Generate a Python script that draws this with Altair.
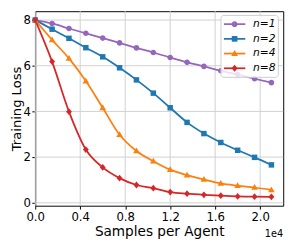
import altair as alt
import pandas as pd

samples = [0, 1500, 3000, 4500, 6000, 7500, 9000, 10500, 12000, 13500, 15000, 16500, 18000, 19500, 21000]
loss_n1 = [8.0, 7.85, 7.63, 7.42, 7.21, 7.0, 6.78, 6.58, 6.36, 6.15, 5.97, 5.78, 5.61, 5.43, 5.26]
loss_n2 = [8.0, 7.60, 7.20, 6.79, 6.39, 5.91, 5.38, 4.80, 4.16, 3.52, 3.03, 2.64, 2.30, 1.99, 1.66]
loss_n4 = [8.0, 7.13, 6.32, 5.33, 4.16, 2.98, 2.27, 1.82, 1.45, 1.21, 1.02, 0.85, 0.75, 0.67, 0.57]
loss_n8 = [8.0, 6.18, 3.99, 2.33, 1.55, 1.08, 0.78, 0.64, 0.47, 0.40, 0.35, 0.31, 0.28, 0.27, 0.26]
series_names = ["n=1", "n=2", "n=4", "n=8"]
colors = ["#9467bd", "#1f77b4", "#ff7f0e", "#d62728"]
x_ticks = [0, 4000, 8000, 12000, 16000, 20000]
y_ticks = [0, 2, 4, 6, 8]

shapes = [
    "M0.6,0C0.6,0.33 0.33,0.6 0,0.6C-0.33,0.6 -0.6,0.33 -0.6,0C-0.6,-0.33 -0.33,-0.6 0,-0.6C0.33,-0.6 0.6,-0.33 0.6,0Z",
    "M-0.58,-0.58L0.58,-0.58L0.58,0.58L-0.58,0.58Z",
    "M0,-0.72L0.7,0.5L-0.7,0.5Z",
    "M0,-0.72L0.62,0L0,0.72L-0.62,0Z",
]

rows = []
for name, vals in zip(series_names, [loss_n1, loss_n2, loss_n4, loss_n8]):
    for xv, yv in zip(samples, vals):
        rows.append({"series": name, "samples": xv, "loss": yv})
df = pd.DataFrame(rows)
legend_df = pd.DataFrame({"series": series_names})

xscale = alt.Scale(domain=[0, 22050], nice=False, zero=False)
yscale = alt.Scale(domain=[-0.127, 8.387], nice=False, zero=False)
xaxis = alt.Axis(values=x_ticks, labelExpr="format(datum.value/10000, '.1f')",
                 title="Samples per Agent", titlePadding=2.5, labelPadding=3,
                 labelFlush=False, grid=False)
yaxis = alt.Axis(values=y_ticks, title="Training Loss", titlePadding=0, labelPadding=1.5,
                 labelFlush=False, grid=False, titleFontSize=13.5)
xenc = alt.X("samples:Q", scale=xscale, axis=xaxis)
yenc = alt.Y("loss:Q", scale=yscale, axis=yaxis)

cscale = alt.Scale(domain=series_names, range=colors)
sscale = alt.Scale(domain=series_names, range=shapes)

grid_x = alt.Chart(pd.DataFrame({"samples": x_ticks})).mark_rule(
    color="#d0d0d0", strokeWidth=1).encode(x=xenc)
grid_y = alt.Chart(pd.DataFrame({"loss": y_ticks})).mark_rule(
    color="#d0d0d0", strokeWidth=1).encode(y=yenc)

lines = alt.Chart(df).mark_line(strokeWidth=1.8, interpolate="monotone").encode(
    x=xenc, y=yenc,
    color=alt.Color("series:N", scale=cscale, legend=None),
)

points = alt.Chart(df).mark_point(filled=True, size=94, opacity=1).encode(
    x=xenc, y=yenc,
    color=alt.Color("series:N", scale=cscale, legend=None),
    shape=alt.Shape("series:N", scale=sscale, legend=None),
)

offset_text = alt.Chart(pd.DataFrame({"t": ["1e4"]})).mark_text(
    align="right", baseline="middle", fontSize=10, font="DejaVu Sans", color="black"
).encode(text="t:N", x=alt.value(255), y=alt.value(229))

main = alt.layer(grid_x, grid_y, lines, points, offset_text)

# legend drawn as its own small layer
leg_y = alt.Y("series:N", scale=alt.Scale(type="point", domain=series_names,
                                           range=[13.3, 58.7], padding=0), axis=None)
leg_box = alt.Chart(pd.DataFrame({"b": [1]})).mark_rect(
    fill="white", fillOpacity=0.8, stroke="#cccccc", strokeWidth=1, cornerRadius=3
).encode(x=alt.value(191), x2=alt.value(250), y=alt.value(4.3), y2=alt.value(68))
leg_line = alt.Chart(legend_df).mark_rule(strokeWidth=1.8).encode(
    x=alt.value(194), x2=alt.value(216), y=leg_y,
    color=alt.Color("series:N", scale=cscale, legend=None))
leg_pt = alt.Chart(legend_df).mark_point(filled=True, size=100, opacity=1).encode(
    x=alt.value(205), y=leg_y,
    color=alt.Color("series:N", scale=cscale, legend=None),
    shape=alt.Shape("series:N", scale=sscale, legend=None))
leg_txt = alt.Chart(legend_df).mark_text(
    align="left", baseline="middle", fontSize=11, fontStyle="italic",
    font="DejaVu Sans", color="black"
).encode(x=alt.value(224), y=leg_y, text="series:N")
legend = alt.layer(leg_box, leg_line, leg_pt, leg_txt)

chart = alt.layer(main, legend).resolve_scale(y="independent").properties(
    width=255, height=200,
    autosize=alt.AutoSizeParams(type="none"),
    padding={"left": 28, "top": 0, "right": 8, "bottom": 33},
).configure_view(
    stroke="black", strokeWidth=1
).configure_axis(
    labelFont="DejaVu Sans", labelFontSize=12, labelColor="black",
    titleFont="DejaVu Sans", titleFontSize=14, titleFontWeight="normal", titleColor="black",
    tickColor="black", tickSize=3.5, tickWidth=1, domain=False,
)

chart.save("out.html", embed_options={"renderer": "svg", "actions": False})
